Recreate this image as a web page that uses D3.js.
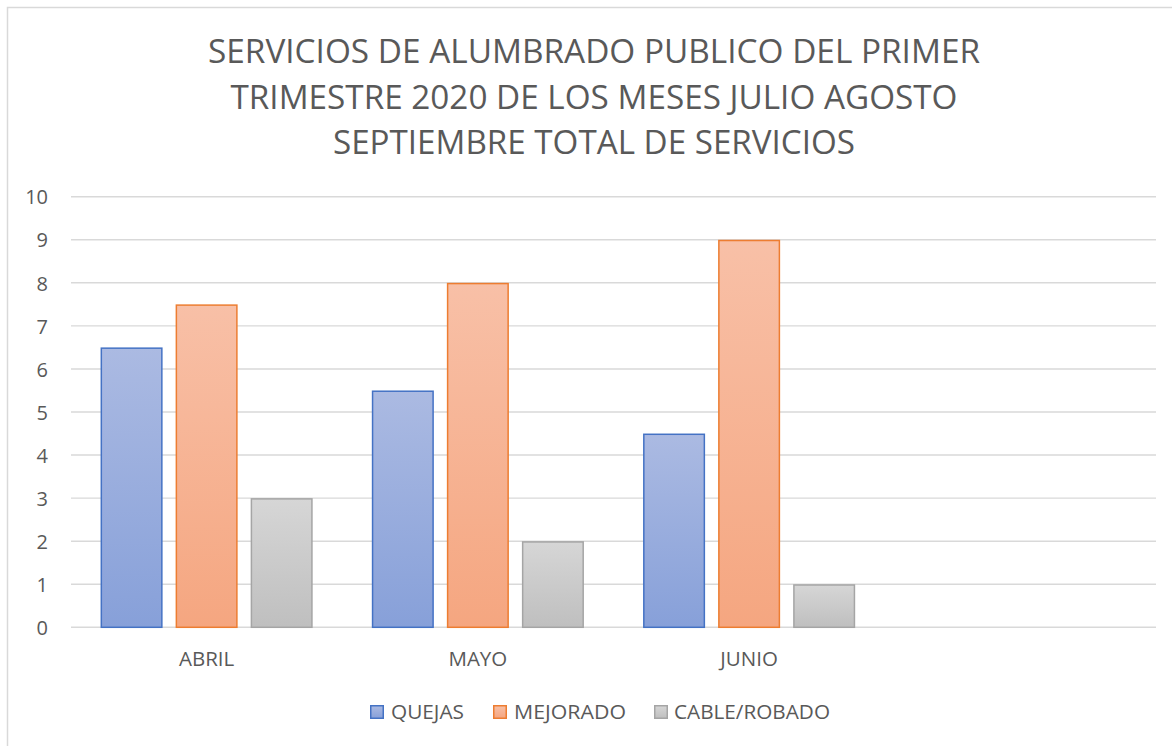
<!DOCTYPE html>
<html>
<head>
<meta charset="utf-8">
<script src="https://cdn.jsdelivr.net/npm/d3@7"></script>
<style>
  html, body { margin: 0; padding: 0; background: #fff; }
  svg { display: block; }
  text { font-family: "Open Sans", "Noto Sans", sans-serif; fill: #595959; }
</style>
</head>
<body>
<svg id="chart" width="1172" height="746"></svg>
<script>
const titleLines = [
  "SERVICIOS DE ALUMBRADO PUBLICO DEL PRIMER",
  "TRIMESTRE 2020 DE LOS MESES JULIO AGOSTO",
  "SEPTIEMBRE TOTAL DE SERVICIOS"
];
const categories = ["ABRIL", "MAYO", "JUNIO", ""];
const seriesNames = ["QUEJAS", "MEJORADO", "CABLE/ROBADO"];
const quejas = [6.5, 5.5, 4.5, null];
const mejorado = [7.5, 8, 9, null];
const cableRobado = [3, 2, 1, null];
const yTicks = [0, 1, 2, 3, 4, 5, 6, 7, 8, 9, 10];

const seriesValues = [quejas, mejorado, cableRobado];
const seriesStyle = [
  { stroke: "#4472c4", top: "#abbae2", bottom: "#87a0d9" },
  { stroke: "#ed7d31", top: "#f8c0a7", bottom: "#f5a680" },
  { stroke: "#a5a5a5", top: "#d6d6d6", bottom: "#bfbfbf" }
];

const svg = d3.select("#chart");

// outer border (extends past visible frame)
svg.append("rect")
  .attr("x", 7.5).attr("y", 7.5)
  .attr("width", 1200).attr("height", 800)
  .attr("fill", "none").attr("stroke", "#d9d9d9").attr("stroke-width", 1.5);

// gradients
const defs = svg.append("defs");
seriesStyle.forEach((s, i) => {
  const g = defs.append("linearGradient")
    .attr("id", "grad" + i)
    .attr("x1", 0).attr("y1", 0).attr("x2", 0).attr("y2", 1);
  g.append("stop").attr("offset", "0%").attr("stop-color", s.top);
  g.append("stop").attr("offset", "100%").attr("stop-color", s.bottom);
});

// title
const titleWidths = [772, 727, 522];
const titleBaselines = [63, 108.5, 154];
svg.append("g").selectAll("text").data(titleLines).join("text")
  .attr("x", 594)
  .attr("y", (d, i) => titleBaselines[i])
  .attr("text-anchor", "middle")
  .attr("font-size", 33.5)
  .attr("fill", "#606060")
  .attr("textLength", (d, i) => titleWidths[i])
  .attr("lengthAdjust", "spacingAndGlyphs")
  .text(d => d);

// scales
const plotLeft = 71, plotRight = 1156, plotTop = 196.7, plotBottom = 627.3;
const x0 = d3.scaleBand().domain(d3.range(categories.length)).range([plotLeft, plotRight]).padding(0);
const bw = x0.bandwidth();
const groupW = bw * 0.782;
const x1 = d3.scaleBand().domain(d3.range(seriesNames.length))
  .range([(bw - groupW) / 2, (bw + groupW) / 2]).paddingInner(0.1733).paddingOuter(0);
const y = d3.scaleLinear().domain([0, 10]).range([plotBottom, plotTop]);

// gridlines
svg.append("g").selectAll("line").data(yTicks).join("line")
  .attr("x1", plotLeft).attr("x2", plotRight)
  .attr("y1", d => y(d)).attr("y2", d => y(d))
  .attr("stroke", "#d9d9d9").attr("stroke-width", 1.4);

// y axis labels via d3 axis
const yAxis = d3.axisLeft(y).tickValues(yTicks).tickSize(0).tickPadding(0).tickFormat(d3.format("d"));
const yg = svg.append("g").attr("transform", "translate(48,0)").call(yAxis);
yg.select(".domain").remove();
yg.selectAll("text")
  .attr("font-family", "'Open Sans', 'Noto Sans', sans-serif")
  .attr("font-size", 20)
  .attr("fill", "#595959")
  .attr("dy", "0.36em");

// bars
const groups = svg.append("g").selectAll("g").data(categories).join("g")
  .attr("transform", (d, i) => `translate(${x0(i)},0)`);
groups.selectAll("rect")
  .data((d, ci) => seriesValues.map((vals, si) => ({ si, v: vals[ci] })).filter(o => o.v != null))
  .join("rect")
  .attr("x", d => x1(d.si) + 0.75)
  .attr("width", x1.bandwidth() - 1.5)
  .attr("y", d => y(d.v) + 0.75)
  .attr("height", d => y(0) - y(d.v) - 0.75)
  .attr("fill", d => `url(#grad${d.si})`)
  .attr("stroke", d => seriesStyle[d.si].stroke)
  .attr("stroke-width", 1.5);

// x axis labels via d3 axis
const xAxis = d3.axisBottom(x0).tickSize(0).tickPadding(0).tickFormat(i => categories[i]);
const xg = svg.append("g").attr("transform", "translate(0,666)").call(xAxis);
xg.select(".domain").remove();
xg.selectAll("text")
  .attr("font-family", "'Open Sans', 'Noto Sans', sans-serif")
  .attr("font-size", 20.5)
  .attr("fill", "#595959")
  .attr("dy", 0);

// legend
const legendX = [370, 493, 654];
const legendTextW = [73, 112, 156];
const lg = svg.append("g").selectAll("g").data(seriesNames).join("g")
  .attr("transform", (d, i) => `translate(${legendX[i]},0)`);
lg.append("rect")
  .attr("x", 0.75).attr("y", 705.75).attr("width", 12.5).attr("height", 12.5)
  .attr("fill", (d, i) => `url(#grad${i})`)
  .attr("stroke", (d, i) => seriesStyle[i].stroke).attr("stroke-width", 1.5);
lg.append("text")
  .attr("x", (d, i) => i === 2 ? 20 : 21)
  .attr("y", 718.5)
  .attr("font-size", 19.5)
  .attr("textLength", (d, i) => legendTextW[i])
  .attr("lengthAdjust", "spacingAndGlyphs")
  .text(d => d);
</script>
</body>
</html>
